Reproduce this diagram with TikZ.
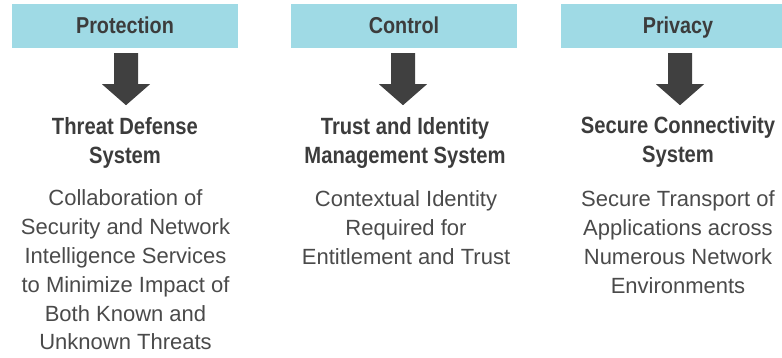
\documentclass[tikz,border=0pt]{standalone}
\usepackage{fontspec}
\setmainfont{Liberation Sans}
\newfontfamily\condfont[FakeStretch=0.86]{Liberation Sans}
\usetikzlibrary{calc}
\definecolor{boxblue}{HTML}{9FDAE5}
\definecolor{darktext}{HTML}{3C3C3C}
\definecolor{bodytext}{HTML}{4A4A4A}
\definecolor{arrowgray}{HTML}{404040}
\tikzset{
  header/.style={fill=boxblue, minimum height=43.2pt, inner sep=0pt,
    text height=17pt, text depth=2.6pt,
    font=\condfont\bfseries\fontsize{23}{23}\selectfont, text=darktext},
  titletext/.style={anchor=base, inner sep=0pt,
    font=\condfont\bfseries\fontsize{23.5}{29}\selectfont, text=darktext},
  bodytextstyle/.style={anchor=base, inner sep=0pt,
    font=\fontsize{22}{28.8}\selectfont, text=bodytext},
  downarrow/.style={fill=arrowgray}
}
\newcommand\downarr[1]{%
  \fill[downarrow] ($(#1)+(-12,5.3)$) -- ($(#1)+(12,5.3)$) -- ($(#1)+(12,36.3)$)
    -- ($(#1)+(24,36.3)$) -- ($(#1)+(0,57.3)$) -- ($(#1)+(-24,36.3)$)
    -- ($(#1)+(-12,36.3)$) -- cycle;}
\begin{document}
\begin{tikzpicture}[x=1pt,y=-1pt]
\useasboundingbox (0,0) rectangle (782,358);
\clip (0,0) rectangle (782,358);
% headers
\node[header, minimum width=226pt] (h1) at (125,26.1) {Protection};
\node[header, minimum width=226pt] (h2) at (404,26.1) {Control};
\node[header, minimum width=234pt] (h3) at (678,26.1) {Privacy};
% arrows
\coordinate (a1) at ($(h1.south)+(1,0)$);
\coordinate (a2) at ($(h2.south)+(-1,0)$);
\coordinate (a3) at ($(h3.south)+(2,0)$);
\downarr{a1}
\downarr{a2}
\downarr{a3}
% titles
\node[titletext] (t1) at (125,135) {\parbox[t]{250pt}{\centering Threat Defense\\System}};
\node[titletext] (t2) at (405,135) {\parbox[t]{250pt}{\centering Trust and Identity\\Management System}};
\node[titletext] (t3) at (678,134) {\parbox[t]{250pt}{\centering Secure Connectivity\\System}};
% bodies
\node[bodytextstyle] (b1) at (125.5,206) {\parbox[t]{250pt}{\centering Collaboration of\\Security and Network\\Intelligence Services\\to Minimize Impact of\\Both Known and\\Unknown Threats}};
\node[bodytextstyle] (b2) at (406,207) {\parbox[t]{250pt}{\centering Contextual Identity\\Required for\\Entitlement and Trust}};
\node[bodytextstyle] (b3) at (678,207) {\parbox[t]{250pt}{\centering Secure Transport of\\Applications across\\Numerous Network\\Environments}};
\end{tikzpicture}
\end{document}
